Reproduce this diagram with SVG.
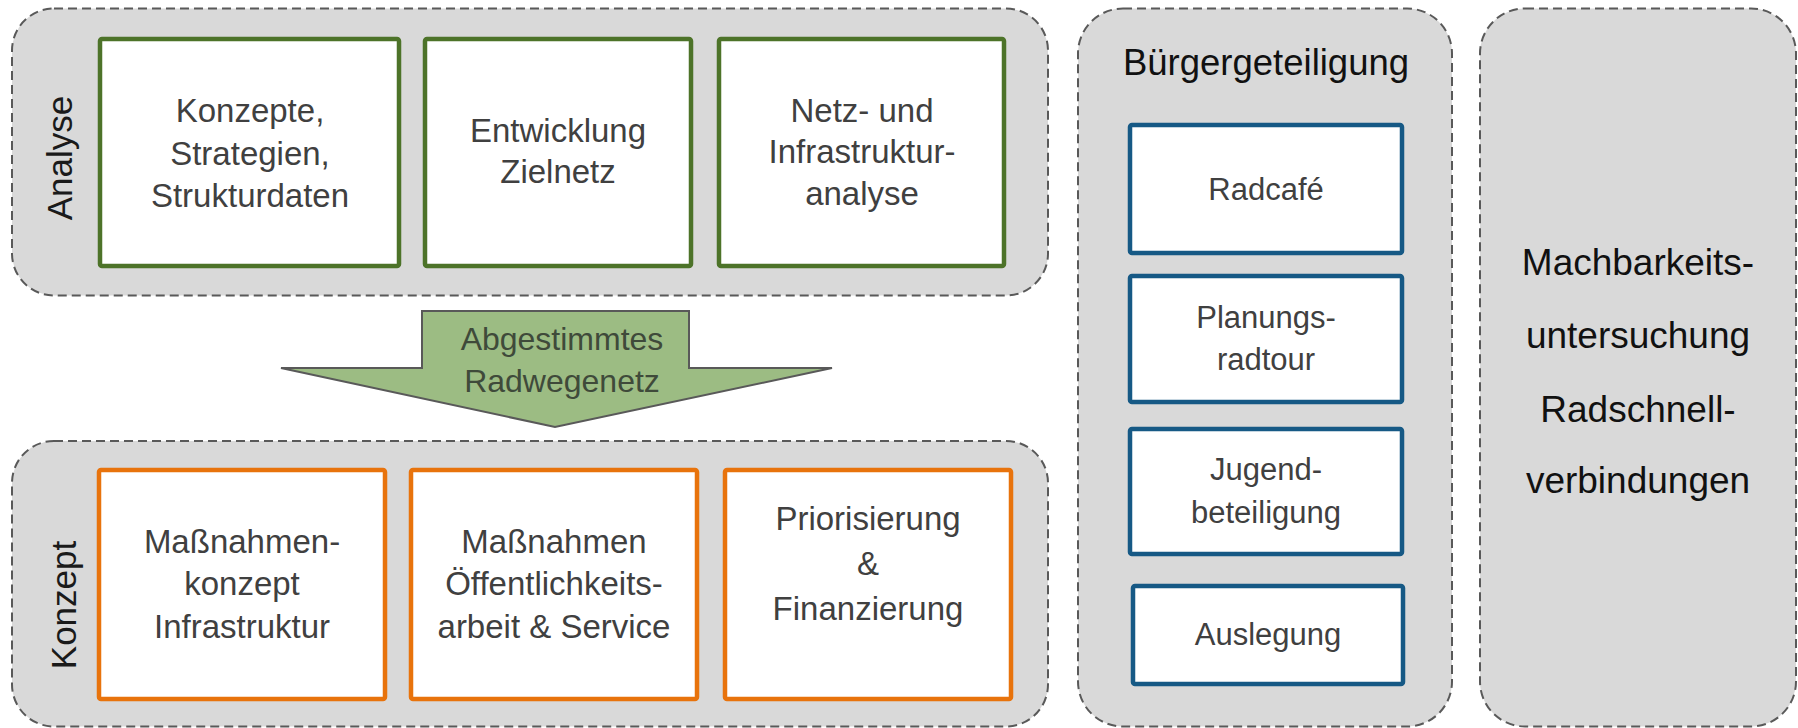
<svg xmlns="http://www.w3.org/2000/svg" width="1798" height="728" viewBox="0 0 1798 728">
  <style>
    .panel { fill: #d9d9d9; stroke: #595959; stroke-width: 2; stroke-dasharray: 9 5; }
    .box { fill: #ffffff; stroke-width: 4.5; }
    .green { stroke: #4d7329; }
    .orange { stroke: #e8730c; }
    .blue { stroke: #165985; }
    .arrow { fill: #9cbc83; stroke: #595959; stroke-width: 2; stroke-linejoin: miter; }
    text { font-family: "Liberation Sans", Arial, sans-serif; text-anchor: middle; }
    .t { font-size: 33px; fill: #404040; }
    .tb { font-size: 31px; fill: #404040; }
    .side { font-size: 35px; fill: #1a1a1a; }
    .head { font-size: 36.5px; fill: #111111; }
    .big { font-size: 37px; fill: #111111; }
    .at { font-size: 32px; fill: #3f4a3a; }
  </style>

  <!-- phase panels -->
  <g id="panel-analyse">
    <rect class="panel" x="12" y="8.5" width="1036" height="287" rx="42"/>
    <text class="side" transform="translate(72,158) rotate(-90)">Analyse</text>
  </g>
  <g id="panel-konzept">
    <rect class="panel" x="12" y="441" width="1036" height="285.5" rx="42"/>
    <text class="side" transform="translate(76,605) rotate(-90)">Konzept</text>
  </g>
  <g id="panel-buerger">
    <rect class="panel" x="1078" y="8.5" width="374" height="718" rx="45"/>
    <text class="head" x="1266" y="75">Bürgergeteiligung</text>
  </g>
  <g id="panel-machbarkeit">
    <rect class="panel" x="1480" y="8.5" width="316" height="718" rx="45"/>
    <text class="big" x="1638" y="275">Machbarkeits-</text>
    <text class="big" x="1638" y="348">untersuchung</text>
    <text class="big" x="1638" y="422">Radschnell-</text>
    <text class="big" x="1638" y="493">verbindungen</text>
  </g>

  <!-- analysis steps -->
  <g id="konzepte">
    <rect class="box green" x="100" y="39" width="299" height="227" rx="2"/>
    <text class="t" x="250" y="122">Konzepte,</text>
    <text class="t" x="250" y="165">Strategien,</text>
    <text class="t" x="250" y="207">Strukturdaten</text>
  </g>
  <g id="zielnetz">
    <rect class="box green" x="425" y="39" width="266" height="227" rx="2"/>
    <text class="t" x="558" y="142">Entwicklung</text>
    <text class="t" x="558" y="183">Zielnetz</text>
  </g>
  <g id="infrastrukturanalyse">
    <rect class="box green" x="719" y="39" width="285" height="227" rx="2"/>
    <text class="t" x="862" y="122">Netz- und</text>
    <text class="t" x="862" y="163">Infrastruktur-</text>
    <text class="t" x="862" y="205">analyse</text>
  </g>

  <!-- concept steps -->
  <g id="massnahmenkonzept">
    <rect class="box orange" x="99" y="470" width="286" height="229" rx="2"/>
    <text class="t" x="242" y="553">Maßnahmen-</text>
    <text class="t" x="242" y="595">konzept</text>
    <text class="t" x="242" y="638">Infrastruktur</text>
  </g>
  <g id="oeffentlichkeitsarbeit">
    <rect class="box orange" x="411" y="470" width="286" height="229" rx="2"/>
    <text class="t" x="554" y="553">Maßnahmen</text>
    <text class="t" x="554" y="595">Öffentlichkeits-</text>
    <text class="t" x="554" y="638">arbeit &amp; Service</text>
  </g>
  <g id="priorisierung">
    <rect class="box orange" x="725" y="470" width="286" height="229" rx="2"/>
    <text class="t" x="868" y="530">Priorisierung</text>
    <text class="t" x="868" y="575">&amp;</text>
    <text class="t" x="868" y="620">Finanzierung</text>
  </g>

  <!-- participation formats -->
  <g id="radcafe">
    <rect class="box blue" x="1130" y="125" width="272" height="128" rx="2"/>
    <text class="tb" x="1266" y="200">Radcafé</text>
  </g>
  <g id="planungsradtour">
    <rect class="box blue" x="1130" y="276" width="272" height="126" rx="2"/>
    <text class="tb" x="1266" y="328">Planungs-</text>
    <text class="tb" x="1266" y="370">radtour</text>
  </g>
  <g id="jugendbeteiligung">
    <rect class="box blue" x="1130" y="429" width="272" height="125" rx="2"/>
    <text class="tb" x="1266" y="480">Jugend-</text>
    <text class="tb" x="1266" y="523">beteiligung</text>
  </g>
  <g id="auslegung">
    <rect class="box blue" x="1133" y="586" width="270" height="98" rx="2"/>
    <text class="tb" x="1268" y="645">Auslegung</text>
  </g>

  <!-- hand-over from analysis to concept -->
  <g id="connectors">
    <g id="abgestimmtes-radwegenetz">
      <polygon class="arrow" points="422,311 689,311 689,368 832,368 555,427 281,368 422,368"/>
      <text class="at" x="562" y="350">Abgestimmtes</text>
      <text class="at" x="562" y="392">Radwegenetz</text>
    </g>
  </g>
</svg>
